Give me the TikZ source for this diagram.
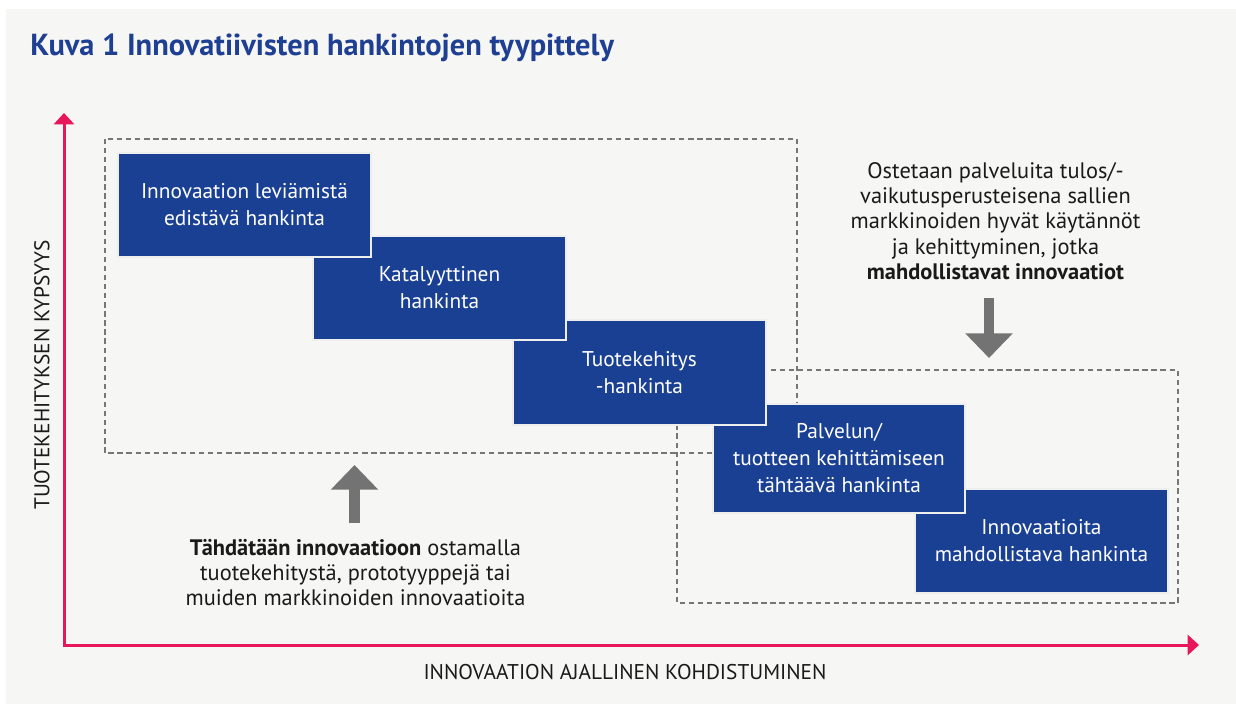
\documentclass[tikz,border=0pt]{standalone}
\usepackage{fontspec}
\setmainfont{PT Sans}
\newfontfamily\titlefont{PT Sans}
\usetikzlibrary{arrows.meta}
\definecolor{bgc}{HTML}{F6F6F4}
\definecolor{boxblue}{HTML}{1A4094}
\definecolor{boxedge}{HTML}{EEEEEE}
\definecolor{titleblue}{HTML}{1E3F92}
\definecolor{axisred}{HTML}{E8175D}
\definecolor{dashgray}{HTML}{767676}
\definecolor{arrowgray}{HTML}{737373}
\definecolor{txt}{HTML}{1A1A1A}
\tikzset{
  bbox/.style={fill=boxblue, draw=boxedge, line width=1.5pt, text=white, align=center,
    font=\fontsize{16}{20.25}\selectfont, inner sep=0pt},
  dashbox/.style={draw=dashgray, line width=1.9pt, dash pattern=on 4pt off 2.8pt},
  blockarrow/.style={draw=arrowgray, line width=8pt, -{Triangle[width=34.5pt,length=18.5pt]}, arrowgray},
  sidetext/.style={align=center, text=txt, font=\fontsize{16.8}{18.9}\selectfont, inner sep=0pt},
  axislabel/.style={text=txt, font=\fontsize{16}{18}\selectfont, inner sep=0pt},
  axis/.style={draw=axisred, line width=2.25pt, {Triangle[width=15pt,length=8.5pt]}-{Triangle[width=15pt,length=8.5pt]}, axisred}
}
\begin{document}
\begin{tikzpicture}[x=0.75pt,y=-0.75pt]
\useasboundingbox (0,0) rectangle (1236,704);
\fill[white] (0,0) rectangle (1236,704);
\fill[bgc] (6,9) rectangle (1236,704);
% title
\node[anchor=base west, inner sep=0pt, text=titleblue, font=\titlefont\bfseries\fontsize{22.8}{24}\selectfont] (title) at (30,55) {Kuva 1 Innovatiivisten hankintojen tyypittely};
% dashed groups
\draw[dashbox] (105,139) rectangle (797,453);
\draw[dashbox] (677,370) rectangle (1178,603);
% boxes (bottom-most first)
\node[bbox, minimum width=189.75pt, minimum height=78pt] (b5) at (1041.5,541) {Innovaatioita\\mahdollistava hankinta};
\node[bbox, minimum width=189pt, minimum height=81.75pt] (b4) at (839,458.5) {Palvelun/\\tuotteen kehittämiseen\\tähtäävä hankinta};
\node[bbox, minimum width=189.75pt, minimum height=78.75pt] (b3) at (639.5,372.5) {Tuotekehitys\\-hankinta};
\node[bbox, minimum width=189.75pt, minimum height=78pt] (b2) at (439.5,288) {Katalyyttinen\\hankinta};
\node[bbox, minimum width=189.75pt, minimum height=78pt] (b1) at (244.5,205) {Innovaation leviämistä\\edistävä hankinta};
% side texts
\node[sidetext] (rt) at (995.5,221) {Ostetaan palveluita tulos/-\\vaikutusperusteisena sallien\\markkinoiden hyvät käytännöt\\ja kehittyminen, jotka\\\textbf{mahdollistavat innovaatiot}};
\node[sidetext] (lt) at (355.5,572.5) {\textbf{Tähdätään innovaatioon} ostamalla\\tuotekehitystä, prototyyppejä tai\\muiden markkinoiden innovaatioita};
% block arrows
\coordinate (ua0) at (354.5,523);
\coordinate (ua1) at (354.5,465);
\draw[blockarrow] (ua0) -- (ua1);
\coordinate (da0) at (989,298);
\coordinate (da1) at (989,358);
\draw[blockarrow] (da0) -- (da1);
% axes
\coordinate (ytop) at (64,113);
\coordinate (org) at (64,645);
\coordinate (xend) at (1199,645);
\draw[axis] (ytop) -- (org) -- (xend);
\node[axislabel, rotate=90] (ylab) at (42,375) {TUOTEKEHITYKSEN KYPSYYS};
\node[axislabel] (xlab) at (625,672) {INNOVAATION AJALLINEN KOHDISTUMINEN};
\end{tikzpicture}
\end{document}
